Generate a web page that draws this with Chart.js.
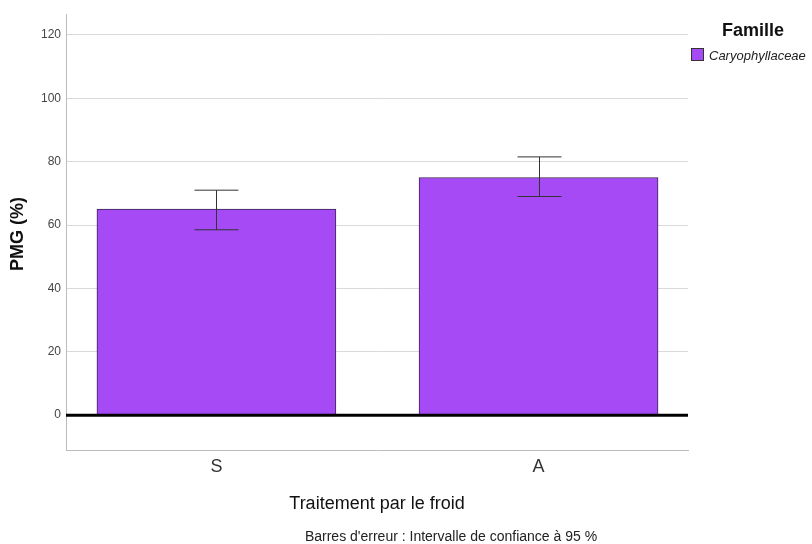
<!DOCTYPE html>
<html>
<head>
<meta charset="utf-8">
<script src="https://cdn.jsdelivr.net/npm/chart.js@4/dist/chart.umd.min.js"></script>
<style>
    html, body { margin: 0; padding: 0; background: #fff; }
    #wrap { width: 812px; height: 544px; position: relative; }
</style>
</head>
<body>
<div id="wrap"><canvas id="chart"></canvas></div>
<script>
const categories = ["S", "A"];
const pmgMeans = [65, 75];
const ciLow = [58.5, 69];
const ciHigh = [71, 81.5];
const yTicks = [0, 20, 40, 60, 80, 100, 120];

const seriesLabel = "Caryophyllaceae";
const legendTitle = "Famille";
const yTitle = "PMG (%)";
const xTitle = "Traitement par le froid";
const footnote = "Barres d'erreur : Intervalle de confiance à 95 %";

const FONT = "'Liberation Sans', Arial, sans-serif";
const BAR = "#a54af5";

// error bars, zero line, titles and legend drawn on top
const extras = {
    id: "extras",
    afterDatasetsDraw(chart) {
        const { ctx, chartArea, scales: { x, y } } = chart;
        ctx.save();

        // error bars
        ctx.strokeStyle = "#333";
        ctx.lineWidth = 1;
        categories.forEach((c, i) => {
            const px = Math.round(x.getPixelForValue(i)) + 0.5;
            const top = y.getPixelForValue(ciHigh[i]);
            const bot = y.getPixelForValue(ciLow[i]);
            ctx.beginPath();
            ctx.moveTo(px, top); ctx.lineTo(px, bot);
            ctx.moveTo(px - 22, top); ctx.lineTo(px + 22, top);
            ctx.moveTo(px - 22, bot); ctx.lineTo(px + 22, bot);
            ctx.stroke();
        });

        // zero line
        const y0 = y.getPixelForValue(0);
        ctx.strokeStyle = "#000";
        ctx.lineWidth = 3;
        ctx.beginPath();
        ctx.moveTo(chartArea.left, y0);
        ctx.lineTo(chartArea.right, y0);
        ctx.stroke();

        // axis titles
        ctx.fillStyle = "#111";
        ctx.font = "bold 18px " + FONT;
        ctx.textAlign = "center";
        ctx.textBaseline = "middle";
        ctx.save();
        ctx.translate(18, 234);
        ctx.rotate(-Math.PI / 2);
        ctx.fillText(yTitle, 0, 0);
        ctx.restore();

        ctx.font = "18px " + FONT;
        ctx.fillText(xTitle, 377, 504);

        ctx.font = "14px " + FONT;
        ctx.fillStyle = "#222";
        ctx.fillText(footnote, 451, 537);

        // legend
        ctx.fillStyle = "#111";
        ctx.font = "bold 18px " + FONT;
        ctx.fillText(legendTitle, 753, 31);
        ctx.textAlign = "left";
        ctx.fillStyle = BAR;
        ctx.fillRect(691, 48, 13, 13);
        ctx.strokeStyle = "#333";
        ctx.lineWidth = 1;
        ctx.strokeRect(691.5, 48.5, 12, 12);
        ctx.fillStyle = "#222";
        ctx.font = "italic 13px " + FONT;
        ctx.fillText(seriesLabel, 709, 56);

        ctx.restore();
    }
};

new Chart(document.getElementById("chart"), {
    type: "bar",
    data: {
        datasets: [{
            label: seriesLabel,
            data: pmgMeans.map((v, i) => ({ x: i, y: v })),
            backgroundColor: BAR,
            borderColor: "#3a2450",
            borderWidth: 1,
            borderSkipped: false,
            barThickness: 239,
        }],
    },
    options: {
        responsive: true,
        maintainAspectRatio: false,
        animation: false,
        layout: { padding: { top: 14, right: 124, bottom: 0, left: 0 } },
        plugins: {
            legend: { display: false },
            tooltip: { enabled: false },
        },
        scales: {
            x: {
                type: "linear",
                offset: false,
                min: -0.467,
                max: 1.464,
                afterBuildTicks: (s) => { s.ticks = categories.map((c, i) => ({ value: i })); },
                afterFit: (s) => { s.height = 94; s.paddingLeft = 0; s.paddingRight = 0; },
                grid: { display: false, drawTicks: false, offset: false },
                border: { display: true, color: "#bbb", width: 1 },
                ticks: {
                    callback: (v) => categories[v] ?? "",
                    padding: 6,
                    color: "#333",
                    font: { size: 18, family: FONT },
                    maxRotation: 0,
                },
            },
            y: {
                min: -11,
                max: 126.6,
                afterBuildTicks: (s) => { s.ticks = yTicks.map((v) => ({ value: v })); },
                afterFit: (s) => { s.width = 66; s.paddingTop = 0; s.paddingBottom = 0; },
                grid: { color: "#d9d9d9", lineWidth: 1, drawTicks: false },
                border: { display: true, color: "#bbb", width: 1 },
                ticks: {
                    padding: 5,
                    color: "#444",
                    font: { size: 12, family: FONT },
                },
            },
        },
    },
    plugins: [extras],
});
</script>
</body>
</html>
